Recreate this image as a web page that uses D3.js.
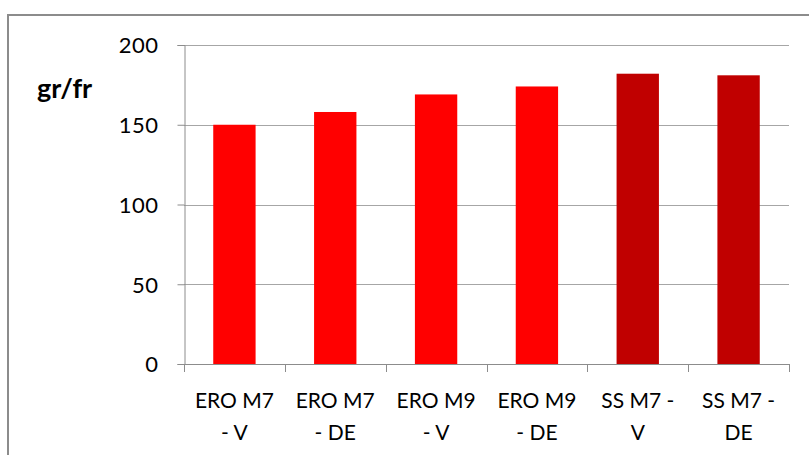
<!DOCTYPE html>
<html>
<head>
<meta charset="utf-8">
<script src="https://cdn.jsdelivr.net/npm/d3@7"></script>
<style>
  html, body { margin: 0; padding: 0; background: #fff; }
  svg { display: block; }
  text { font-family: Lato, "Open Sans", sans-serif; fill: #000; }
</style>
</head>
<body>
<script>
// Categories (two-line labels) and values in gr/fr
const categories = ["ERO M7 - V", "ERO M7 - DE", "ERO M9 - V", "ERO M9 - DE", "SS M7 - V", "SS M7 - DE"];
const labelLines = [["ERO M7", "- V"], ["ERO M7", "- DE"], ["ERO M9", "- V"], ["ERO M9", "- DE"], ["SS M7 -", "V"], ["SS M7 -", "DE"]];
const values = [150, 158, 169, 174, 182, 181];
const barColors = ["#FF0000", "#FF0000", "#FF0000", "#FF0000", "#C00000", "#C00000"];
const yTicks = [0, 50, 100, 150, 200];
const yLabel = "gr/fr";

const W = 809, H = 455;
const svg = d3.select("body").append("svg").attr("width", W).attr("height", H);

// Chart area frame
svg.append("rect")
  .attr("x", 8).attr("y", 15).attr("width", 820).attr("height", 460)
  .attr("fill", "none").attr("stroke", "#8c8c8c").attr("stroke-width", 2);

const plot = { left: 184, right: 789, top: 45, bottom: 364 };

const x = d3.scaleBand().domain(categories).range([plot.left, plot.right]).paddingInner(0.58).paddingOuter(0.29);
const xOuter = d3.scaleBand().domain(categories).range([plot.left, plot.right]);
const y = d3.scaleLinear().domain([0, 200]).range([plot.bottom, plot.top]);

// Horizontal gridlines
svg.append("g").selectAll("line").data(yTicks.filter(d => d > 0)).join("line")
  .attr("x1", plot.left).attr("x2", plot.right)
  .attr("y1", d => Math.round(y(d)) + 0.5).attr("y2", d => Math.round(y(d)) + 0.5)
  .attr("stroke", "#a6a6a6").attr("stroke-width", 1);

// Bars
svg.append("g").selectAll("rect").data(values).join("rect")
  .attr("x", (d, i) => x(categories[i]))
  .attr("width", x.bandwidth())
  .attr("y", d => y(d))
  .attr("height", d => y(0) - y(d))
  .attr("fill", (d, i) => barColors[i]);

// Y axis
const yAxis = d3.axisLeft(y).tickValues(yTicks).tickSize(7).tickPadding(19).tickFormat(d3.format("d"));
const gy = svg.append("g").attr("transform", `translate(${plot.left + 0.5},0)`).call(yAxis);
gy.select(".domain").attr("stroke", "#8c8c8c");
gy.selectAll(".tick line").attr("stroke", "#8c8c8c");
gy.selectAll(".tick text").attr("font-size", 22).attr("dy", "0.36em")
  .style("font-family", "Lato, sans-serif").style("letter-spacing", "0.5px");

// X axis line and category separators
svg.append("line")
  .attr("x1", plot.left).attr("x2", plot.right)
  .attr("y1", plot.bottom + 0.5).attr("y2", plot.bottom + 0.5)
  .attr("stroke", "#8c8c8c");
const sepX = categories.map(c => xOuter(c)).concat([plot.right]);
svg.append("g").selectAll("line").data(sepX).join("line")
  .attr("x1", d => Math.round(d) + 0.5).attr("x2", d => Math.round(d) + 0.5)
  .attr("y1", plot.bottom).attr("y2", plot.bottom + 8)
  .attr("stroke", "#8c8c8c");

// Category labels
const lab = svg.append("g").selectAll("text").data(labelLines).join("text")
  .attr("text-anchor", "middle")
  .attr("font-size", 21)
  .attr("x", (d, i) => xOuter(categories[i]) + xOuter.bandwidth() / 2);
lab.selectAll("tspan").data(d => d).join("tspan")
  .attr("x", function() { return this.parentNode.getAttribute("x"); })
  .attr("y", (d, j) => 408 + j * 32)
  .text(d => d);

// Y axis title
svg.append("text")
  .attr("x", 37).attr("y", 98)
  .attr("font-size", 27).attr("font-weight", "bold")
  .text(yLabel);
</script>
</body>
</html>
